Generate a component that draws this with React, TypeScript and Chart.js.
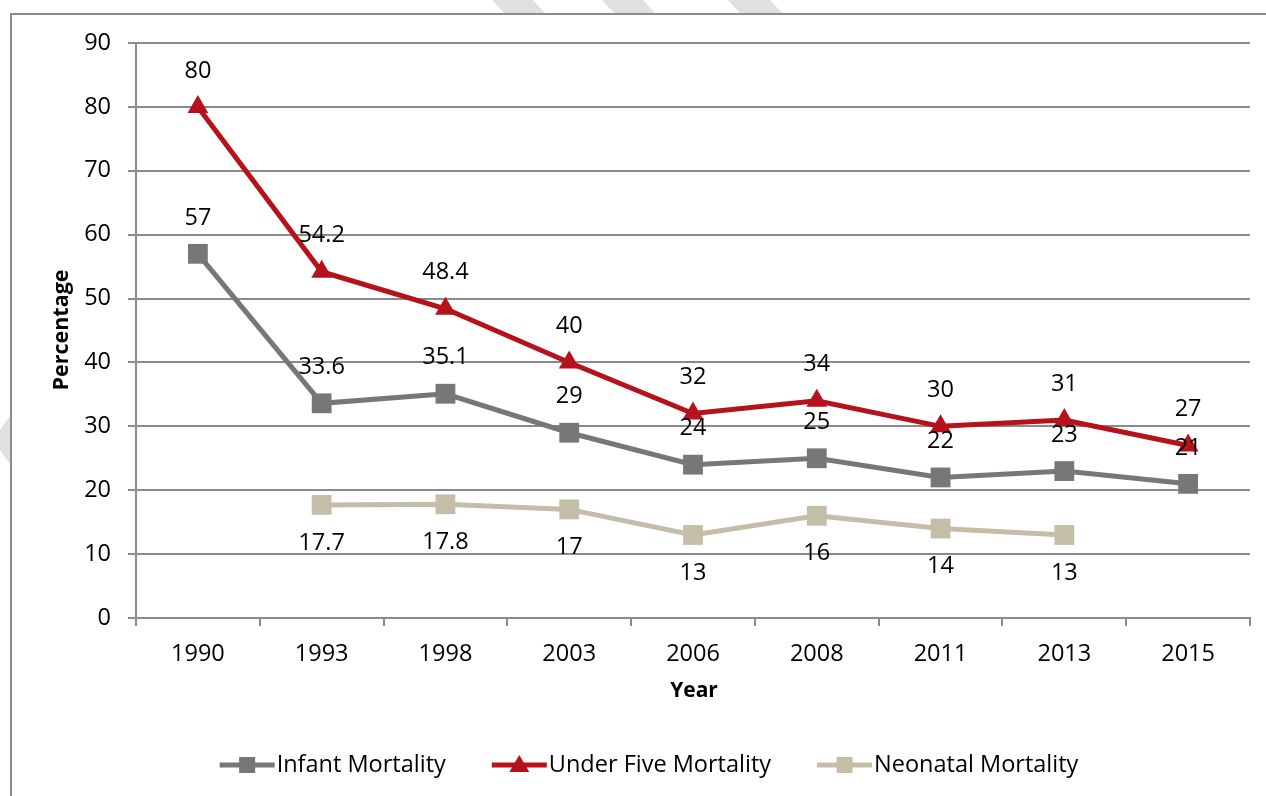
import { useEffect, useRef } from "react";
import { Chart, registerables } from "chart.js";

Chart.register(...registerables);

const years = ["1990", "1993", "1998", "2003", "2006", "2008", "2011", "2013", "2015"];
const infantMortality = [57, 33.6, 35.1, 29, 24, 25, 22, 23, 21];
const underFiveMortality = [80, 54.2, 48.4, 40, 32, 34, 30, 31, 27];
const neonatalMortality: (number | null)[] = [null, 17.7, 17.8, 17, 13, 16, 14, 13, null];
const seriesNames = ["Infant Mortality", "Under Five Mortality", "Neonatal Mortality"];
const labelSides = ["above", "above", "below"];
const yTitle = "Percentage";
const xTitle = "Year";

const FONT = "'Open Sans', 'Noto Sans', sans-serif";
const GRAY = "#777777";
const RED = "#B5121B";
const BEIGE = "#C4BEA9";
const GRID = "#8A8A8A";
const FS = 23.5;

const decorPlugin = {
  id: "decor",
  beforeDraw(chart: any) {
    const ctx = chart.ctx;
    ctx.save();
    ctx.fillStyle = "#fff";
    ctx.fillRect(0, 0, chart.width, chart.height);
    ctx.fillStyle = "#E0E0E0";
    const stripes = [[492, 533], [602, 643], [728, 770]];
    for (const [a, b] of stripes) {
      ctx.beginPath();
      ctx.moveTo(a, 0);
      ctx.lineTo(b, 0);
      ctx.lineTo(b + 12, 13);
      ctx.lineTo(a + 12, 13);
      ctx.closePath();
      ctx.fill();
    }
    ctx.beginPath();
    ctx.moveTo(10, 416);
    ctx.lineTo(0, 430);
    ctx.lineTo(0, 450);
    ctx.lineTo(10, 464);
    ctx.closePath();
    ctx.fill();
    ctx.strokeStyle = "#8C8C8C";
    ctx.lineWidth = 2;
    ctx.beginPath();
    ctx.moveTo(11, 800);
    ctx.lineTo(11, 14);
    ctx.lineTo(1270, 14);
    ctx.stroke();
    ctx.restore();
  },
  afterDraw(chart: any) {
    const ctx = chart.ctx;
    ctx.save();
    ctx.font = `${FS}px ${FONT}`;
    ctx.fillStyle = "#000";
    ctx.textAlign = "center";
    ctx.textBaseline = "middle";
    chart.data.datasets.forEach((ds: any, i: number) => {
      const meta = chart.getDatasetMeta(i);
      meta.data.forEach((pt: any, j: number) => {
        const v = ds.data[j];
        if (v === null || v === undefined) return;
        const dy = labelSides[i] === "above" ? -36 : 38;
        ctx.fillText(String(v), pt.x, pt.y + dy);
      });
    });
    ctx.font = `bold 21px ${FONT}`;
    ctx.fillText(xTitle, 694, 691);
    ctx.save();
    ctx.translate(62, 330);
    ctx.rotate(-Math.PI / 2);
    ctx.font = `bold 21.5px ${FONT}`;
    ctx.fillText(yTitle, 0, 0);
    ctx.restore();
    ctx.font = `${FS}px ${FONT}`;
    ctx.textAlign = "left";
    const lineW = 55;
    const gapText = 2;
    const gapItem = 46;
    const widths = seriesNames.map((n) => ctx.measureText(n).width);
    const total = widths.reduce((a, w) => a + lineW + gapText + w, 0) + gapItem * (seriesNames.length - 1);
    let x = 649 - total / 2;
    const y = 765;
    chart.data.datasets.forEach((ds: any, i: number) => {
      ctx.strokeStyle = ds.borderColor;
      ctx.lineWidth = 5;
      ctx.beginPath();
      ctx.moveTo(x, y);
      ctx.lineTo(x + lineW, y);
      ctx.stroke();
      ctx.fillStyle = ds.borderColor;
      const cx = x + lineW / 2;
      if (ds.pointStyle === "triangle") {
        ctx.beginPath();
        ctx.moveTo(cx, y - 10);
        ctx.lineTo(cx + 10, y + 7);
        ctx.lineTo(cx - 10, y + 7);
        ctx.closePath();
        ctx.fill();
      } else {
        ctx.fillRect(cx - 8, y - 8, 16, 16);
      }
      ctx.fillStyle = "#000";
      ctx.fillText(seriesNames[i], x + lineW + gapText, y);
      x += lineW + gapText + widths[i] + gapItem;
    });
    ctx.restore();
  },
};

export default function App() {
  const ref = useRef<HTMLCanvasElement | null>(null);
  useEffect(() => {
    if (!ref.current) return;
    const chart = new Chart(ref.current, {
      type: "line",
      data: {
        labels: years,
        datasets: [
          {
            label: seriesNames[0],
            data: infantMortality,
            borderColor: GRAY,
            backgroundColor: GRAY,
            borderWidth: 5,
            pointStyle: "rect",
            pointRadius: 14,
            pointBorderWidth: 0,
            tension: 0,
          },
          {
            label: seriesNames[1],
            data: underFiveMortality,
            borderColor: RED,
            backgroundColor: RED,
            borderWidth: 5,
            pointStyle: "triangle",
            pointRadius: 12,
            pointBorderWidth: 0,
            tension: 0,
          },
          {
            label: seriesNames[2],
            data: neonatalMortality,
            borderColor: BEIGE,
            backgroundColor: BEIGE,
            borderWidth: 5,
            pointStyle: "rect",
            pointRadius: 14,
            pointBorderWidth: 0,
            tension: 0,
          },
        ],
      },
      options: {
        animation: false,
        responsive: false,
        devicePixelRatio: 1,
        layout: { padding: { left: 0, top: 43, right: 16, bottom: 0 } },
        plugins: { legend: { display: false }, tooltip: { enabled: false } },
        scales: {
          x: {
            offset: true,
            grid: {
              offset: true,
              drawOnChartArea: false,
              drawTicks: true,
              tickLength: 8,
              color: GRID,
              lineWidth: 2,
            },
            border: { color: GRID, width: 2 },
            ticks: { color: "#000", font: { family: FONT, size: FS }, padding: 14, maxRotation: 0 },
            afterFit: (s: any) => {
              s.height = 178;
            },
          },
          y: {
            min: 0,
            max: 90,
            grid: { color: GRID, lineWidth: 2, tickLength: 8 },
            border: { color: GRID, width: 2 },
            ticks: { stepSize: 10, color: "#000", font: { family: FONT, size: FS }, padding: 17 },
            afterFit: (s: any) => {
              s.width = 136;
            },
          },
        },
      },
      plugins: [decorPlugin],
    });
    return () => chart.destroy();
  }, []);
  return (
    <div style={{ position: "fixed", left: 0, top: 0, width: 1266, height: 796, background: "#fff" }}>
      <canvas ref={ref} width={1266} height={796} style={{ display: "block" }} />
    </div>
  );
}
